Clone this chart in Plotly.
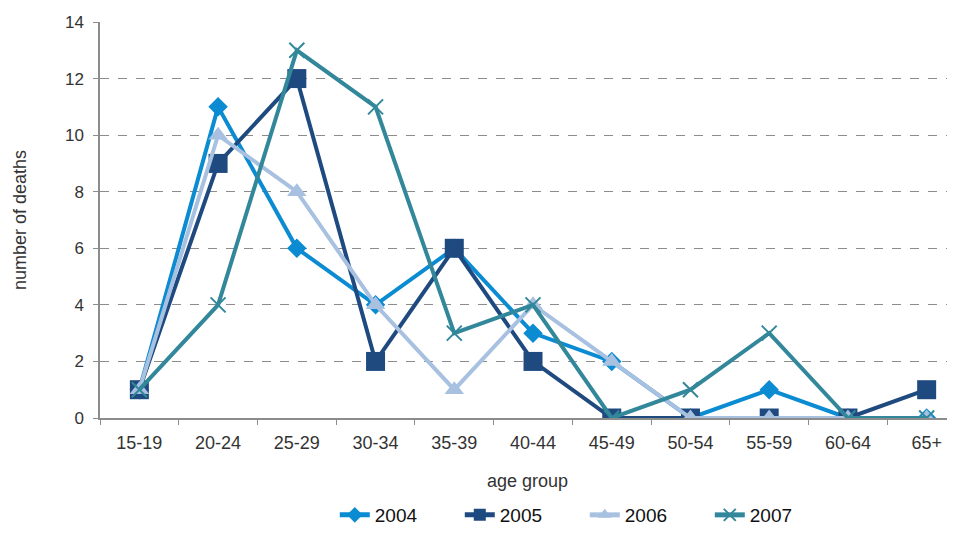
import plotly.graph_objects as go

age_groups = ["15-19", "20-24", "25-29", "30-34", "35-39", "40-44", "45-49", "50-54", "55-59", "60-64", "65+"]
deaths_2004 = [1, 11, 6, 4, 6, 3, 2, 0, 1, 0, 0]
deaths_2005 = [1, 9, 12, 2, 6, 2, 0, 0, 0, 0, 1]
deaths_2006 = [1, 10, 8, 4, 1, 4, 2, 0, 0, 0, 0]
deaths_2007 = [1, 4, 13, 11, 3, 4, 0, 1, 3, 0, 0]
y_ticks = [0, 2, 4, 6, 8, 10, 12, 14]

series = [
    ("2004", deaths_2004, "#0a8bd2", "diamond", 15, None),
    ("2005", deaths_2005, "#1f4a7f", "square", 19, None),
    ("2006", deaths_2006, "#a9c1e1", "triangle-up", 17, None),
    ("2007", deaths_2007, "#32889a", "x-thin", 15, 2),
]

fig = go.Figure()
for name, vals, color, sym, size, lw in series:
    marker = dict(symbol=sym, size=size, color=color)
    if lw:
        marker["line"] = dict(width=lw, color=color)
    fig.add_trace(go.Scatter(
        x=age_groups, y=vals, name=name, mode="lines+markers",
        line=dict(color=color, width=4), marker=marker,
    ))

font = "Liberation Sans, Arial, sans-serif"
fig.update_layout(
    width=947, height=526,
    margin=dict(l=92, r=0, t=14, b=104),
    plot_bgcolor="white", paper_bgcolor="white",
    font=dict(family=font, size=17, color="#333333"),
    showlegend=True,
    legend=dict(orientation="h", x=0.567, xanchor="center", y=-0.246, yanchor="middle",
                font=dict(size=19, color="#111111"), itemsizing="constant",
                entrywidth=80),
    xaxis=dict(
        type="category", range=[-0.5, 10.36], automargin=False,
        showline=True, linecolor="#8c8c8c", linewidth=1.5,
        ticks="outside", tickson="boundaries", ticklen=5, tickcolor="#8c8c8c",
        ticklabelstandoff=8,
        showgrid=False,
        tickfont=dict(size=18, color="#333333"),
        title=dict(text="age group", font=dict(size=18, color="#333333"), standoff=22),
    ),
    yaxis=dict(
        range=[0, 14], tickvals=y_ticks, automargin=False,
        showline=True, linecolor="#8c8c8c", linewidth=1.5,
        ticks="outside", ticklen=5, tickcolor="#8c8c8c",
        ticklabelstandoff=6,
        showgrid=True, gridcolor="#8c8c8c", griddash="dash", gridwidth=1,
        zeroline=False,
        tickfont=dict(size=17, color="#333333"),
        title=dict(text="number of deaths", font=dict(size=18, color="#333333"), standoff=34),
    ),
)

fig.write_html("out.html")
